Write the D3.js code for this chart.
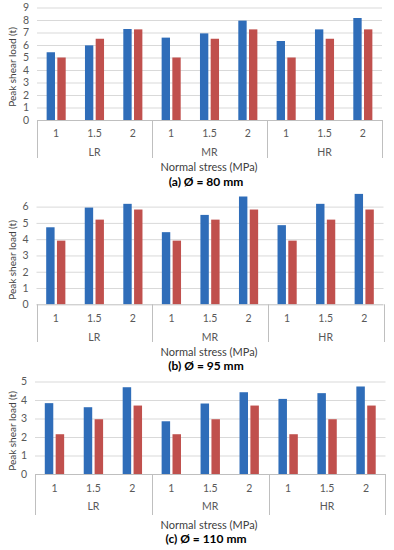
<!DOCTYPE html>
<html>
<head>
<meta charset="utf-8">
<script src="https://cdn.jsdelivr.net/npm/d3@7"></script>
<style>
  html, body { margin: 0; padding: 0; background: #fff; }
  svg { display: block; }
  text { font-family: Lato, "Open Sans", sans-serif; }
</style>
</head>
<body>
<div id="chart"></div>
<script>
// ---- data ----
const groups = ["LR", "MR", "HR"];
const stresses = ["1", "1.5", "2"];
const seriesKeys = ["s1", "s2"];
const seriesColors = ["#2F6DB9", "#C0504D"];

const panelATitle = "(a) Ø = 80 mm";
const panelBTitle = "(b) Ø = 95 mm";
const panelCTitle = "(c) Ø = 110 mm";

const aBlue = [5.42, 5.97, 7.28, 6.59, 6.93, 7.95, 6.32, 7.25, 8.16];
const aRed  = [5.0, 6.5, 7.25, 5.0, 6.5, 7.25, 5.0, 6.5, 7.25];
const bBlue = [4.73, 5.94, 6.17, 4.43, 5.49, 6.62, 4.86, 6.17, 6.78];
const bRed  = [3.91, 5.2, 5.82, 3.91, 5.2, 5.82, 3.91, 5.2, 5.82];
const cBlue = [3.83, 3.61, 4.69, 2.85, 3.81, 4.42, 4.06, 4.37, 4.73];
const cRed  = [2.15, 2.96, 3.70, 2.15, 2.96, 3.70, 2.15, 2.96, 3.70];

const aTicks = [0, 1, 2, 3, 4, 5, 6, 7, 8, 9];
const bTicks = [0, 1, 2, 3, 4, 5, 6];
const cTicks = [0, 1, 2, 3, 4, 5];

const xTitle = "Normal stress (MPa)";
const yTitle = "Peak shear load (t)";

// ---- layout (pixels) ----
const W = 394, H = 550;
const panels = [
  { title: panelATitle, blue: aBlue, red: aRed, ticks: aTicks,
    left: 37, right: 382, y0: 120, yTop: 7.5,
    row1: 133, row2: 152, sepBottom: 158, xT: 167, pT: 182, yTc: 67 },
  { title: panelBTitle, blue: bBlue, red: bRed, ticks: bTicks,
    left: 36.5, right: 383.5, y0: 304.3, yTop: 206.6,
    row1: 318, row2: 337, sepBottom: 342, xT: 352, pT: 365.5, yTc: 260 },
  { title: panelCTitle, blue: cBlue, red: cRed, ticks: cTicks,
    left: 35, right: 385.5, y0: 474, yTop: 381.5,
    row1: 488, row2: 506, sepBottom: 515, xT: 525, pT: 539, yTc: 431 }
];

const svg = d3.select("#chart").append("svg")
  .attr("width", W).attr("height", H);

const cats = [];
groups.forEach(g => stresses.forEach(s => cats.push(g + "|" + s)));

panels.forEach(p => {
  const gP = svg.append("g");
  const yMax = d3.max(p.ticks);
  const y = d3.scaleLinear().domain([0, yMax]).range([p.y0, p.yTop]);
  const x = d3.scaleBand().domain(cats).range([p.left, p.right]).padding(0);
  const xs = d3.scaleBand().domain(seriesKeys).range([0, x.bandwidth()])
    .paddingInner(0.22).paddingOuter(0.9);
  const xg = d3.scaleBand().domain(groups).range([p.left, p.right]).padding(0);

  // gridlines
  const yAxis = d3.axisLeft(y).tickValues(p.ticks).tickSize(-(p.right - p.left)).tickPadding(8)
    .tickFormat(d3.format("d"));
  const ga = gP.append("g").attr("transform", `translate(${p.left},0)`).call(yAxis);
  ga.select(".domain").remove();
  ga.selectAll(".tick line").attr("stroke", "#D9D9D9").attr("stroke-width", 1)
    .filter(d => d === 0).remove();
  ga.selectAll(".tick text").attr("fill", "#595959").style("font-size", "10.5px")
    .style("font-family", "Lato, sans-serif").attr("x", -8);

  // bars
  const rows = cats.map((c, i) => ({ cat: c, vals: [p.blue[i], p.red[i]] }));
  const cg = gP.append("g").selectAll("g").data(rows).join("g")
    .attr("transform", d => `translate(${x(d.cat)},0)`);
  cg.selectAll("rect").data(d => d.vals.map((v, j) => ({ key: seriesKeys[j], v, j })))
    .join("rect")
    .attr("x", d => xs(d.key))
    .attr("width", xs.bandwidth())
    .attr("y", d => y(d.v))
    .attr("height", d => y(0) - y(d.v))
    .attr("fill", d => seriesColors[d.j]);

  // category axis baseline
  gP.append("line").attr("x1", p.left).attr("x2", p.right)
    .attr("y1", p.y0 + 0.5).attr("y2", p.y0 + 0.5)
    .attr("stroke", "#BFBFBF").attr("stroke-width", 1);
  // separators
  const seps = [p.left].concat(groups.map(g => xg(g) + xg.bandwidth()));
  gP.append("g").selectAll("line").data(seps).join("line")
    .attr("x1", d => Math.round(d) + 0.5).attr("x2", d => Math.round(d) + 0.5)
    .attr("y1", p.y0).attr("y2", p.sepBottom)
    .attr("stroke", "#BFBFBF").attr("stroke-width", 1);

  // level 1 labels
  gP.append("g").selectAll("text").data(cats).join("text")
    .attr("x", d => x(d) + x.bandwidth() / 2)
    .attr("y", p.row1).attr("dy", "0.35em")
    .attr("text-anchor", "middle").attr("fill", "#595959")
    .style("font-size", "10.5px").text(d => d.split("|")[1]);
  // level 2 labels
  gP.append("g").selectAll("text").data(groups).join("text")
    .attr("x", d => xg(d) + xg.bandwidth() / 2)
    .attr("y", p.row2).attr("dy", "0.35em")
    .attr("text-anchor", "middle").attr("fill", "#595959")
    .style("font-size", "10.5px").text(d => d);

  // axis titles
  gP.append("text").attr("x", 209).attr("y", p.xT).attr("dy", "0.35em")
    .attr("text-anchor", "middle").attr("fill", "#404040")
    .style("font-size", "11px").text(xTitle);
  gP.append("text")
    .attr("transform", `translate(12,${p.yTc}) rotate(-90)`)
    .attr("dy", "0.35em").attr("text-anchor", "middle").attr("fill", "#404040")
    .style("font-size", "10px").text(yTitle);
  // panel caption
  gP.append("text").attr("x", 206).attr("y", p.pT).attr("dy", "0.35em")
    .attr("text-anchor", "middle").attr("fill", "#000")
    .style("font-size", "12px").style("font-weight", "bold")
    .style("font-family", "Lato, sans-serif").text(p.title);
});
</script>
</body>
</html>
